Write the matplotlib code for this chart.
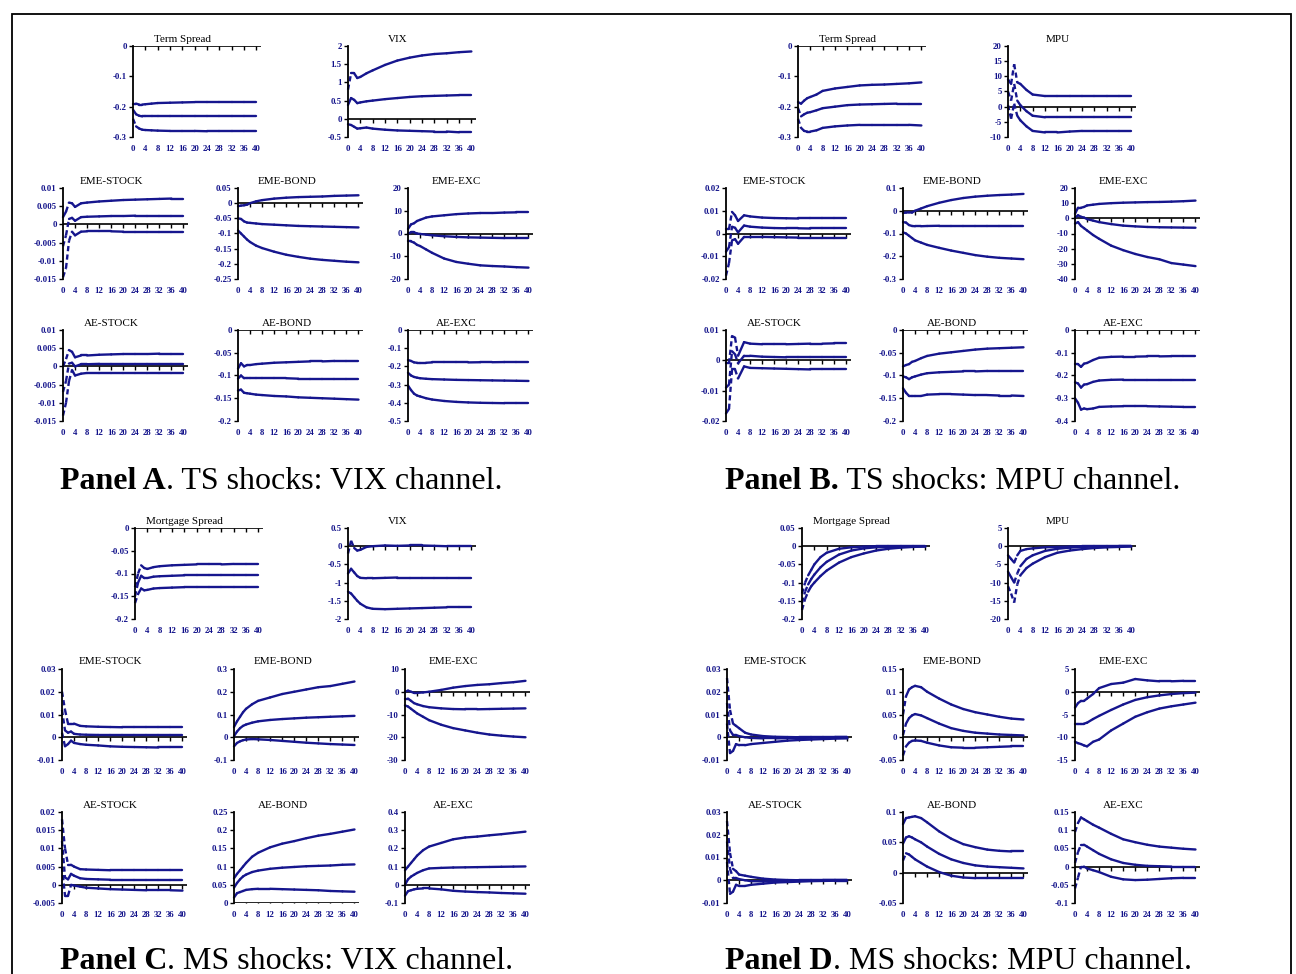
import matplotlib
matplotlib.use("Agg")
import matplotlib.pyplot as plt
from matplotlib.patches import Rectangle

plt.rcParams['font.family'] = ['Liberation Serif', 'DejaVu Serif']

# ------------------------------------------------------------
# data: impulse responses (upper band, median, lower band)
# ------------------------------------------------------------
HORIZON = [0, 1, 2, 3, 4, 6, 8, 12, 16, 20, 24, 28, 32, 36, 40]

# Panel A. TS shocks: VIX channel
A_TERM_SPREAD = [
    [-0.19, -0.19, -0.193, -0.193, -0.192, -0.19, -0.188, -0.187, -0.186, -0.185, -0.185, -0.185, -0.185, -0.185, -0.185],
    [-0.21, -0.225, -0.23, -0.232, -0.232, -0.232, -0.232, -0.232, -0.232, -0.232, -0.232, -0.232, -0.232, -0.232, -0.232],
    [-0.24, -0.265, -0.272, -0.276, -0.277, -0.278, -0.279, -0.28, -0.28, -0.28, -0.281, -0.281, -0.281, -0.281, -0.281],
]
A_VIX = [
    [0.8, 1.25, 1.25, 1.12, 1.15, 1.25, 1.33, 1.48, 1.6, 1.68, 1.74, 1.78, 1.8, 1.83, 1.85],
    [0.38, 0.57, 0.52, 0.43, 0.45, 0.48, 0.5, 0.54, 0.57, 0.6, 0.62, 0.63, 0.64, 0.65, 0.65],
    [-0.15, -0.17, -0.22, -0.27, -0.26, -0.24, -0.27, -0.3, -0.32, -0.33, -0.34, -0.35, -0.35, -0.37, -0.37],
]
A_EME_STOCK = [
    [0.002, 0.0035, 0.006, 0.0058, 0.0048, 0.0058, 0.006, 0.0063, 0.0065, 0.0067, 0.0068, 0.0069, 0.007, 0.0071, 0.0071],
    [-0.006, -0.003, 0.0015, 0.0018, 0.001, 0.002, 0.0021, 0.0022, 0.0023, 0.0023, 0.0024, 0.0024, 0.0024, 0.0024, 0.0024],
    [-0.0145, -0.012, -0.0045, -0.002, -0.003, -0.002, -0.0019, -0.0019, -0.0019, -0.002, -0.002, -0.002, -0.002, -0.002, -0.002],
]
A_EME_BOND = [
    [-0.01, -0.008, -0.007, -0.005, 0.0, 0.006, 0.01, 0.015, 0.018, 0.02, 0.021, 0.022, 0.024, 0.025, 0.026],
    [-0.05, -0.052, -0.06, -0.064, -0.065, -0.067, -0.069, -0.071, -0.073, -0.075, -0.076, -0.077, -0.078, -0.079, -0.08],
    [-0.09, -0.1, -0.11, -0.12, -0.128, -0.14, -0.148, -0.16, -0.17, -0.177, -0.183, -0.187, -0.19, -0.193, -0.195],
]
A_EME_EXC = [
    [2, 4, 4.5, 5.5, 6, 7, 7.5, 8, 8.5, 8.8, 9, 9, 9.2, 9.3, 9.3],
    [0, 0.5, 0.5, 0, -0.2, -0.5, -0.8, -1.2, -1.5, -1.7, -1.8, -1.9, -2, -2, -2],
    [-3.5, -3.5, -4, -5, -5.5, -7, -8.5, -11, -12.5, -13.3, -14, -14.3, -14.5, -14.8, -15],
]
A_AE_STOCK = [
    [0.0, 0.002, 0.0045, 0.004, 0.0025, 0.003, 0.003, 0.0032, 0.0033, 0.0034, 0.0034, 0.0034, 0.0035, 0.0035, 0.0035],
    [-0.007, -0.004, 0.0008, 0.001, 0.0, 0.0006, 0.0006, 0.0007, 0.0007, 0.0007, 0.0007, 0.0007, 0.0007, 0.0007, 0.0007],
    [-0.0135, -0.01, -0.004, -0.001, -0.0025, -0.002, -0.0018, -0.0018, -0.0018, -0.0018, -0.0018, -0.0018, -0.0018, -0.0018, -0.0018],
]
A_AE_BOND = [
    [-0.085, -0.073, -0.08, -0.077, -0.077, -0.075, -0.074, -0.072, -0.071, -0.07, -0.069, -0.069, -0.068, -0.068, -0.068],
    [-0.107, -0.1, -0.106, -0.106, -0.106, -0.106, -0.106, -0.106, -0.106, -0.107, -0.107, -0.107, -0.107, -0.107, -0.107],
    [-0.133, -0.131, -0.138, -0.139, -0.14, -0.142, -0.143, -0.145, -0.146, -0.148, -0.149, -0.15, -0.151, -0.152, -0.153],
]
A_AE_EXC = [
    [-0.165, -0.17, -0.178, -0.18, -0.18, -0.18, -0.178, -0.178, -0.178, -0.178, -0.177, -0.177, -0.176, -0.176, -0.176],
    [-0.235, -0.25, -0.258, -0.262, -0.265, -0.268, -0.27, -0.272, -0.274, -0.275, -0.276, -0.277, -0.278, -0.279, -0.28],
    [-0.305, -0.33, -0.35, -0.36, -0.365, -0.375, -0.382, -0.39, -0.395, -0.398, -0.4, -0.401, -0.402, -0.402, -0.402],
]

# Panel B. TS shocks: MPU channel
B_TERM_SPREAD = [
    [-0.185, -0.19, -0.18, -0.172, -0.168, -0.16, -0.148, -0.14, -0.135, -0.13, -0.128, -0.127, -0.125, -0.123, -0.12],
    [-0.205, -0.232, -0.225, -0.22, -0.218, -0.212, -0.205, -0.2, -0.195, -0.193, -0.192, -0.191, -0.19, -0.19, -0.19],
    [-0.24, -0.27, -0.28, -0.282, -0.282, -0.278, -0.27, -0.265, -0.262, -0.26, -0.26, -0.26, -0.26, -0.26, -0.262],
]
B_MPU = [
    [9, 7.5, 14, 8, 7.5, 5.5, 4, 3.5, 3.5, 3.5, 3.5, 3.5, 3.5, 3.5, 3.5],
    [5, 2, 7.5, 2, 0.5, -1.5, -3, -3.5, -3.5, -3.5, -3.5, -3.5, -3.5, -3.5, -3.5],
    [0.5, -4, 1, -3, -4.5, -6.5, -8, -8.5, -8.5, -8.2, -8, -8, -8, -8, -8],
]
B_EME_STOCK = [
    [0.002, 0.002, 0.0095, 0.008, 0.0055, 0.008, 0.0075, 0.007, 0.0068, 0.0067, 0.0066, 0.0066, 0.0066, 0.0066, 0.0066],
    [-0.008, -0.006, 0.003, 0.0025, 0.0005, 0.0035, 0.003, 0.0026, 0.0024, 0.0023, 0.0023, 0.0022, 0.0022, 0.0022, 0.0022],
    [-0.0185, -0.013, -0.003, -0.0025, -0.0045, -0.0015, -0.0015, -0.0015, -0.0016, -0.0017, -0.0018, -0.0018, -0.0018, -0.0018, -0.0018],
]
B_EME_BOND = [
    [-0.01, -0.008, -0.007, -0.008, 0.0, 0.01, 0.02, 0.035, 0.047, 0.056, 0.062, 0.066, 0.069, 0.071, 0.074],
    [-0.05, -0.052, -0.063, -0.067, -0.068, -0.068, -0.067, -0.066, -0.066, -0.066, -0.066, -0.066, -0.066, -0.066, -0.066],
    [-0.095, -0.1, -0.11, -0.12, -0.13, -0.14, -0.15, -0.163, -0.175, -0.185, -0.195, -0.202, -0.207, -0.21, -0.213],
]
B_EME_EXC = [
    [3, 7, 7, 7.5, 8.5, 9, 9.5, 10, 10.3, 10.5, 10.7, 10.8, 11, 11.3, 11.7],
    [0.5, 2, 1, 0.5, -0.5, -1.5, -2.5, -3.8, -4.8, -5.3, -5.7, -5.9, -6, -6.1, -6.2],
    [-3.5, -2.5, -5, -6.5, -8, -11, -13.5, -18, -21, -23.5, -25.5, -27, -29.5, -30.5, -31.5],
]
B_AE_STOCK = [
    [-0.001, -0.001, 0.008, 0.0075, 0.0015, 0.006, 0.0055, 0.0053, 0.0053, 0.0053, 0.0054, 0.0055, 0.0055, 0.0056, 0.0056],
    [-0.009, -0.008, 0.003, 0.002, -0.001, 0.0015, 0.0015, 0.0012, 0.0011, 0.001, 0.001, 0.001, 0.001, 0.001, 0.001],
    [-0.0175, -0.016, -0.003, -0.003, -0.006, -0.002, -0.0025, -0.0026, -0.0027, -0.0028, -0.0029, -0.003, -0.003, -0.003, -0.003],
]
B_AE_BOND = [
    [-0.08, -0.077, -0.075, -0.07, -0.068, -0.062, -0.057, -0.052, -0.049, -0.046, -0.043, -0.041, -0.04, -0.039, -0.038],
    [-0.102, -0.104, -0.108, -0.104, -0.102, -0.098, -0.095, -0.093, -0.092, -0.091, -0.091, -0.09, -0.09, -0.09, -0.09],
    [-0.128, -0.138, -0.145, -0.145, -0.145, -0.145, -0.142, -0.141, -0.141, -0.142, -0.143, -0.143, -0.144, -0.144, -0.145],
]
B_AE_EXC = [
    [-0.15, -0.15, -0.162, -0.148, -0.145, -0.132, -0.122, -0.118, -0.117, -0.117, -0.116, -0.116, -0.115, -0.115, -0.115],
    [-0.23, -0.235, -0.253, -0.24, -0.238, -0.228, -0.222, -0.219, -0.218, -0.218, -0.218, -0.218, -0.218, -0.218, -0.218],
    [-0.3, -0.32, -0.35, -0.345, -0.348, -0.345, -0.338, -0.336, -0.335, -0.335, -0.335, -0.336, -0.337, -0.338, -0.338],
]

# Panel C. MS shocks: VIX channel
C_MORTGAGE_SPREAD = [
    [-0.13, -0.1, -0.082, -0.088, -0.09, -0.086, -0.084, -0.082, -0.081, -0.08, -0.08, -0.08, -0.079, -0.079, -0.079],
    [-0.15, -0.12, -0.105, -0.11, -0.11, -0.107, -0.106, -0.105, -0.104, -0.104, -0.104, -0.104, -0.104, -0.104, -0.104],
    [-0.165, -0.145, -0.133, -0.137, -0.136, -0.133, -0.132, -0.131, -0.13, -0.13, -0.13, -0.13, -0.13, -0.13, -0.13],
]
C_VIX = [
    [-0.2, 0.15, -0.05, -0.12, -0.1, -0.02, 0.0, 0.02, 0.01, 0.02, 0.02, 0.01, 0.0, 0.0, 0.0],
    [-0.75, -0.62, -0.72, -0.82, -0.87, -0.88, -0.88, -0.87, -0.86, -0.86, -0.86, -0.86, -0.86, -0.86, -0.86],
    [-1.25, -1.3, -1.4, -1.5, -1.58, -1.68, -1.72, -1.73, -1.72, -1.71, -1.7, -1.69, -1.68, -1.68, -1.68],
]
C_EME_STOCK = [
    [0.02, 0.012, 0.006, 0.006, 0.006, 0.005, 0.0048, 0.0046, 0.0045, 0.0044, 0.0044, 0.0044, 0.0044, 0.0044, 0.0044],
    [0.012, 0.003, 0.002, 0.0025, 0.0015, 0.0012, 0.0011, 0.001, 0.001, 0.001, 0.001, 0.001, 0.001, 0.001, 0.001],
    [0.002, -0.004, -0.003, -0.0015, -0.0025, -0.003, -0.0033, -0.0036, -0.004, -0.0042, -0.0043, -0.0044, -0.0045, -0.0045, -0.0045],
]
C_EME_BOND = [
    [0.045, 0.07, 0.09, 0.11, 0.125, 0.145, 0.16, 0.175, 0.19, 0.2, 0.21, 0.22, 0.225, 0.235, 0.245],
    [0.005, 0.025, 0.04, 0.05, 0.056, 0.064, 0.07, 0.076, 0.08, 0.083, 0.086, 0.088, 0.09, 0.092, 0.094],
    [-0.04, -0.025, -0.018, -0.013, -0.01, -0.008, -0.009, -0.012, -0.016, -0.02, -0.024, -0.027, -0.03, -0.032, -0.034],
]
C_EME_EXC = [
    [0, 0.5, 0, -0.5, -0.5, -0.3, 0, 0.8, 1.8, 2.5, 3, 3.3, 3.8, 4.2, 4.8],
    [-3, -3, -4, -5, -5.5, -6.3, -6.8, -7.3, -7.6, -7.7, -7.7, -7.6, -7.5, -7.4, -7.3],
    [-6, -6.5, -7.5, -8.5, -9.5, -11, -12.5, -14.5, -16, -17, -18, -18.8, -19.3, -19.7, -20],
]
C_AE_STOCK = [
    [0.018, 0.01, 0.0055, 0.0055, 0.005, 0.0043, 0.0042, 0.0041, 0.004, 0.004, 0.004, 0.004, 0.004, 0.004, 0.004],
    [0.012, 0.002, 0.0015, 0.003, 0.0025, 0.0018, 0.0016, 0.0015, 0.0014, 0.0014, 0.0014, 0.0014, 0.0014, 0.0014, 0.0014],
    [0.005, -0.003, -0.003, 0.0, -0.0002, -0.0005, -0.0008, -0.001, -0.0012, -0.0013, -0.0014, -0.0015, -0.0015, -0.0015, -0.0016],
]
C_AE_BOND = [
    [0.068, 0.08, 0.09, 0.1, 0.11, 0.127, 0.138, 0.153, 0.163, 0.17, 0.178, 0.185, 0.19, 0.196, 0.202],
    [0.042, 0.055, 0.065, 0.073, 0.078, 0.085, 0.089, 0.094, 0.097, 0.099, 0.101, 0.102, 0.103, 0.105, 0.106],
    [0.015, 0.027, 0.03, 0.033, 0.036, 0.038, 0.039, 0.039, 0.038, 0.037, 0.036, 0.035, 0.033, 0.032, 0.031],
]
C_AE_EXC = [
    [0.08, 0.1, 0.12, 0.14, 0.16, 0.19, 0.21, 0.23, 0.25, 0.26, 0.265, 0.272, 0.278, 0.285, 0.292],
    [0.0, 0.03, 0.045, 0.055, 0.065, 0.08, 0.09, 0.093, 0.095, 0.096, 0.097, 0.098, 0.099, 0.1, 0.101],
    [-0.06, -0.035, -0.03, -0.025, -0.022, -0.02, -0.02, -0.025, -0.033, -0.037, -0.04, -0.042, -0.045, -0.047, -0.049],
]

# Panel D. MS shocks: MPU channel
D_MORTGAGE_SPREAD = [
    [-0.13, -0.1, -0.08, -0.065, -0.05, -0.03, -0.018, -0.007, -0.003, -0.001, 0, 0, 0, 0, 0],
    [-0.155, -0.125, -0.105, -0.09, -0.078, -0.058, -0.043, -0.023, -0.012, -0.006, -0.003, -0.002, -0.001, -0.0005, 0],
    [-0.175, -0.145, -0.125, -0.11, -0.1, -0.082, -0.067, -0.045, -0.03, -0.02, -0.012, -0.007, -0.004, -0.002, -0.001],
]
D_MPU = [
    [-2.5, -3.5, -4.5, -2.5, -1.3, -0.8, -0.6, -0.3, -0.2, -0.1, 0, 0, 0, 0, 0],
    [-7, -8.5, -10, -7.5, -5.5, -3.5, -2.5, -1.3, -0.7, -0.4, -0.2, -0.1, -0.1, 0, 0],
    [-11, -13, -15.5, -10.5, -8, -6, -4.8, -3, -1.8, -1.2, -0.8, -0.5, -0.3, -0.2, -0.1],
]
D_EME_STOCK = [
    [0.026, 0.012, 0.006, 0.005, 0.004, 0.002, 0.0012, 0.0005, 0.0002, 0.0001, 0, 0, 0, 0, 0],
    [0.015, 0.003, 0.001, 0.001, 0.0005, 0.0, -0.0003, -0.0005, -0.0005, -0.0004, -0.0003, -0.0002, -0.0001, 0, 0],
    [0.006, -0.007, -0.006, -0.003, -0.0035, -0.0035, -0.003, -0.0025, -0.002, -0.0015, -0.0012, -0.001, -0.0008, -0.0006, -0.0005],
]
D_EME_BOND = [
    [0.05, 0.09, 0.105, 0.11, 0.113, 0.11, 0.1, 0.085, 0.072, 0.062, 0.055, 0.05, 0.045, 0.041, 0.039],
    [0.005, 0.03, 0.042, 0.048, 0.051, 0.048, 0.042, 0.03, 0.02, 0.014, 0.01, 0.008, 0.006, 0.005, 0.004],
    [-0.04, -0.02, -0.012, -0.008, -0.007, -0.008, -0.012, -0.018, -0.022, -0.023, -0.023, -0.022, -0.021, -0.02, -0.02],
]
D_EME_EXC = [
    [-3.5, -2.5, -2, -2, -1.5, -0.5, 0.8, 1.7, 2, 2.8, 2.5, 2.3, 2.3, 2.4, 2.4],
    [-7, -7, -7, -7, -6.8, -6, -5.3, -4, -2.8, -1.8, -1.2, -0.8, -0.5, -0.3, -0.2],
    [-11, -11.3, -11.5, -11.8, -12, -11, -10.5, -8.5, -7, -5.5, -4.5, -3.7, -3.2, -2.8, -2.4],
]
D_AE_STOCK = [
    [0.026, 0.012, 0.005, 0.004, 0.0025, 0.002, 0.0015, 0.0007, 0.0003, 0.0001, 0, 0, 0, 0, 0],
    [0.017, 0.005, 0.001, 0.001, 0.0005, 0.0, -0.0004, -0.0005, -0.0004, -0.0003, -0.0002, -0.0001, 0, 0, 0],
    [0.008, -0.006, -0.005, -0.002, -0.0025, -0.0025, -0.002, -0.0015, -0.001, -0.0008, -0.0006, -0.0004, -0.0003, -0.0002, -0.0002],
]
D_AE_BOND = [
    [0.08, 0.09, 0.091, 0.092, 0.093, 0.09, 0.083, 0.068, 0.056, 0.047, 0.042, 0.038, 0.036, 0.035, 0.035],
    [0.048, 0.058, 0.06, 0.058, 0.055, 0.05, 0.043, 0.031, 0.022, 0.016, 0.012, 0.01, 0.009, 0.008, 0.007],
    [0.02, 0.032, 0.03, 0.026, 0.022, 0.016, 0.01, 0.001, -0.005, -0.008, -0.009, -0.009, -0.009, -0.009, -0.009],
]
D_AE_EXC = [
    [0.095, 0.12, 0.135, 0.13, 0.125, 0.115, 0.107, 0.09, 0.075, 0.067, 0.06, 0.055, 0.052, 0.049, 0.047],
    [0.01, 0.04, 0.06, 0.06, 0.055, 0.045, 0.035, 0.02, 0.01, 0.005, 0.002, 0.001, 0.0, 0.0, 0.0],
    [-0.06, -0.03, 0.0, 0.0, -0.005, -0.01, -0.015, -0.028, -0.035, -0.037, -0.036, -0.034, -0.032, -0.031, -0.031],
]

# y tick values of every small chart
YT_TS = [-0.3, -0.2, -0.1, 0]
YT_A_VIX = [-0.5, 0, 0.5, 1, 1.5, 2]
YT_STOCK_A = [-0.015, -0.01, -0.005, 0, 0.005, 0.01]
YT_A_EME_BOND = [-0.25, -0.2, -0.15, -0.1, -0.05, 0, 0.05]
YT_A_EME_EXC = [-20, -10, 0, 10, 20]
YT_A_AE_BOND = [-0.2, -0.15, -0.1, -0.05, 0]
YT_A_AE_EXC = [-0.5, -0.4, -0.3, -0.2, -0.1, 0]
YT_B_MPU = [-10, -5, 0, 5, 10, 15, 20]
YT_B_EME_STOCK = [-0.02, -0.01, 0, 0.01, 0.02]
YT_B_EME_BOND = [-0.3, -0.2, -0.1, 0, 0.1]
YT_B_EME_EXC = [-40, -30, -20, -10, 0, 10, 20]
YT_B_AE_STOCK = [-0.02, -0.01, 0, 0.01]
YT_B_AE_EXC = [-0.4, -0.3, -0.2, -0.1, 0]
YT_C_MS = [-0.2, -0.15, -0.1, -0.05, 0]
YT_C_VIX = [-2, -1.5, -1, -0.5, 0, 0.5]
YT_STOCK_CD = [-0.01, 0, 0.01, 0.02, 0.03]
YT_C_EME_BOND = [-0.1, 0, 0.1, 0.2, 0.3]
YT_C_EME_EXC = [-30, -20, -10, 0, 10]
YT_C_AE_STOCK = [-0.005, 0, 0.005, 0.01, 0.015, 0.02]
YT_C_AE_BOND = [0, 0.05, 0.1, 0.15, 0.2, 0.25]
YT_C_AE_EXC = [-0.1, 0, 0.1, 0.2, 0.3, 0.4]
YT_D_MS = [-0.2, -0.15, -0.1, -0.05, 0, 0.05]
YT_D_MPU = [-20, -15, -10, -5, 0, 5]
YT_D_EME_BOND = [-0.05, 0, 0.05, 0.1, 0.15]
YT_D_EME_EXC = [-15, -10, -5, 0, 5]
YT_D_AE_BOND = [-0.05, 0, 0.05, 0.1]
YT_D_AE_EXC = [-0.1, -0.05, 0, 0.05, 0.1, 0.15]

# each panel: top row (2 charts), middle row (3), bottom row (3)
PANEL_A = [
    ("Term Spread", A_TERM_SPREAD, YT_TS), ("VIX", A_VIX, YT_A_VIX),
    ("EME-STOCK", A_EME_STOCK, YT_STOCK_A), ("EME-BOND", A_EME_BOND, YT_A_EME_BOND), ("EME-EXC", A_EME_EXC, YT_A_EME_EXC),
    ("AE-STOCK", A_AE_STOCK, YT_STOCK_A), ("AE-BOND", A_AE_BOND, YT_A_AE_BOND), ("AE-EXC", A_AE_EXC, YT_A_AE_EXC),
]
PANEL_B = [
    ("Term Spread", B_TERM_SPREAD, YT_TS), ("MPU", B_MPU, YT_B_MPU),
    ("EME-STOCK", B_EME_STOCK, YT_B_EME_STOCK), ("EME-BOND", B_EME_BOND, YT_B_EME_BOND), ("EME-EXC", B_EME_EXC, YT_B_EME_EXC),
    ("AE-STOCK", B_AE_STOCK, YT_B_AE_STOCK), ("AE-BOND", B_AE_BOND, YT_A_AE_BOND), ("AE-EXC", B_AE_EXC, YT_B_AE_EXC),
]
PANEL_C = [
    ("Mortgage Spread", C_MORTGAGE_SPREAD, YT_C_MS), ("VIX", C_VIX, YT_C_VIX),
    ("EME-STOCK", C_EME_STOCK, YT_STOCK_CD), ("EME-BOND", C_EME_BOND, YT_C_EME_BOND), ("EME-EXC", C_EME_EXC, YT_C_EME_EXC),
    ("AE-STOCK", C_AE_STOCK, YT_C_AE_STOCK), ("AE-BOND", C_AE_BOND, YT_C_AE_BOND), ("AE-EXC", C_AE_EXC, YT_C_AE_EXC),
]
PANEL_D = [
    ("Mortgage Spread", D_MORTGAGE_SPREAD, YT_D_MS), ("MPU", D_MPU, YT_D_MPU),
    ("EME-STOCK", D_EME_STOCK, YT_STOCK_CD), ("EME-BOND", D_EME_BOND, YT_D_EME_BOND), ("EME-EXC", D_EME_EXC, YT_D_EME_EXC),
    ("AE-STOCK", D_AE_STOCK, YT_STOCK_CD), ("AE-BOND", D_AE_BOND, YT_D_AE_BOND), ("AE-EXC", D_AE_EXC, YT_D_AE_EXC),
]

CAPTION_BOLD = ["Panel A", "Panel B.", "Panel C", "Panel D"]
CAPTION_REST = [". TS shocks: VIX channel.", " TS shocks: MPU channel.",
                ". MS shocks: VIX channel.", ". MS shocks: MPU channel."]

# ------------------------------------------------------------
# layout (pixels)
# ------------------------------------------------------------
W, H = 1296, 974
LINE_COLOR = '#16168e'
LABEL_COLOR = '#12128a'
XMAX = 41.5

TOP_X = [[133, 348], [798, 1008], [135, 348], [802, 1008]]
LOW_X = [[63, 238, 408], [726, 903, 1075], [62, 234, 405], [727, 903, 1075]]
ROW_Y = [[(46, 137), (188, 279), (330, 421)], [(46, 137), (188, 279), (330, 421)],
         [(528, 619), (669, 760), (812, 903)], [(528, 619), (669, 760), (812, 903)]]
CAPTION_XY = [(60, 489), (725, 489), (60, 969), (725, 969)]


def fmt(v):
    return '0' if v == 0 else f'{v:g}'


def draw_band(ax, series, width_px, height_px, yrange):
    # steep segments come out dashed in the original export
    for i in range(len(HORIZON) - 1):
        dx = (HORIZON[i + 1] - HORIZON[i]) * width_px / XMAX
        dy = abs(series[i + 1] - series[i]) * height_px / yrange
        steep = dy > 2.3 * dx
        ax.plot(HORIZON[i:i + 2], series[i:i + 2], color=LINE_COLOR, lw=1.7,
                ls=(0, (2.2, 1.4)) if steep else '-',
                solid_capstyle='round', dash_capstyle='butt', clip_on=False)


def irf_axes(fig, x0, y_top, y_bot, width, title, series, yticks):
    height = y_bot - y_top
    ax = fig.add_axes([x0 / W, 1 - y_bot / H, width / W, height / H])
    for s in series:
        draw_band(ax, s, width, height, yticks[-1] - yticks[0])
    ax.set_xlim(0, XMAX)
    ax.set_ylim(yticks[0], yticks[-1])
    # zero line with small ticks
    ax.plot([0, XMAX], [0, 0], color='black', lw=1.2, zorder=1)
    ax.plot(list(range(4, 41, 4)), [0] * 10, ls='none', marker=3, ms=3,
            mew=1.0, color='black', zorder=1)
    for side in ['top', 'right', 'bottom']:
        ax.spines[side].set_visible(False)
    ax.spines['left'].set_linewidth(1.3)
    ax.set_yticks(yticks)
    ax.set_yticklabels([fmt(v) for v in yticks])
    ax.set_xticks(list(range(0, 41, 4)))
    ax.tick_params(axis='y', length=3, width=1.0, pad=1.5, labelsize=6.3,
                   labelcolor=LABEL_COLOR)
    ax.tick_params(axis='x', length=0, pad=5.5, labelsize=6.3, labelcolor=LABEL_COLOR)
    for lab in ax.get_xticklabels() + ax.get_yticklabels():
        lab.set_fontweight('bold')
    ax.patch.set_visible(False)
    ax.text(0.39, 1.0 + 7 / height, title, transform=ax.transAxes,
            ha='center', va='center', fontsize=8, color='black')
    return ax


def main():
    fig = plt.figure(figsize=(W / 100, H / 100), dpi=100)
    fig.patch.set_facecolor('white')

    # outer frame
    fig.patches.append(Rectangle((12 / W, -0.01), 1279 / W, 1 - 14 / H + 0.01,
                                 transform=fig.transFigure, fill=False,
                                 edgecolor='black', lw=1.3))

    bg = fig.add_axes([0, 0, 1, 1])
    bg.axis('off')
    bg.set_xlim(0, W)
    bg.set_ylim(H, 0)

    panels = [PANEL_A, PANEL_B, PANEL_C, PANEL_D]
    for p, charts in enumerate(panels):
        rows = ROW_Y[p]
        for k in range(2):
            title, series, yt = charts[k]
            irf_axes(fig, TOP_X[p][k], rows[0][0], rows[0][1], 128, title, series, yt)
        for r in range(2):
            for k in range(3):
                title, series, yt = charts[2 + 3 * r + k]
                irf_axes(fig, LOW_X[p][k], rows[r + 1][0], rows[r + 1][1], 125, title, series, yt)

        cx, cy = CAPTION_XY[p]
        t1 = bg.text(cx, cy, CAPTION_BOLD[p], fontsize=23, fontweight='bold',
                     ha='left', va='baseline', color='black')
        bg.annotate(CAPTION_REST[p], xy=(1, 0), xycoords=t1, fontsize=23,
                    ha='left', va='bottom', color='black')

    fig.savefig('out.png', dpi=100, facecolor='white')
    plt.close(fig)


if __name__ == "__main__":
    main()
